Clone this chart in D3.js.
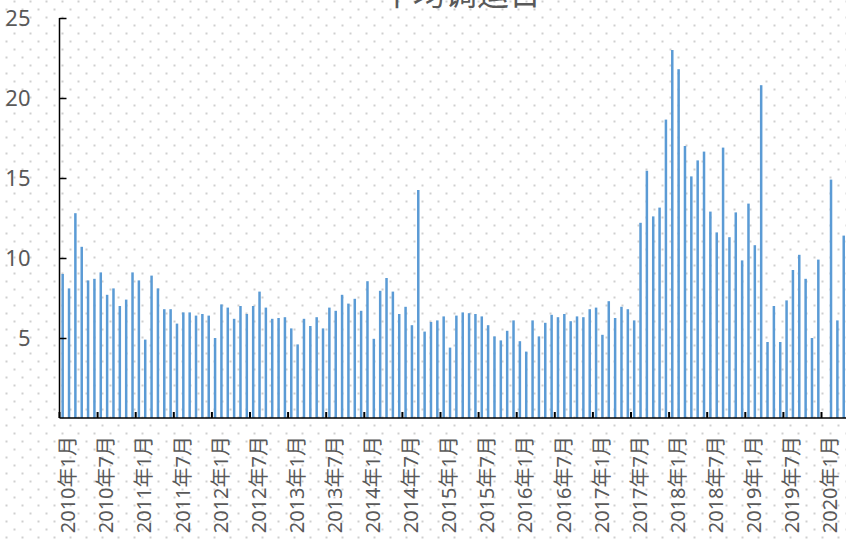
<!DOCTYPE html>
<html>
<head>
<meta charset="utf-8">
<script src="https://cdn.jsdelivr.net/npm/d3@7"></script>
<style>
  html, body { margin: 0; padding: 0; background: #fff; }
  svg { display: block; font-family: "Noto Sans", "Noto Sans CJK SC", sans-serif; }
</style>
</head>
<body>
<div id="chart"></div>
<script>
// monthly average values, one array per year (2020 only partly visible)
const YEARS = [2010, 2011, 2012, 2013, 2014, 2015, 2016, 2017, 2018, 2019, 2020];
const v2010 = [9.0, 8.1, 12.8, 10.7, 8.6, 8.7, 9.1, 7.7, 8.1, 7.0, 7.4, 9.1];
const v2011 = [8.6, 4.9, 8.9, 8.1, 6.8, 6.8, 5.9, 6.6, 6.6, 6.4, 6.5, 6.4];
const v2012 = [5.0, 7.1, 6.9, 6.2, 7.0, 6.5, 7.0, 7.9, 6.9, 6.2, 6.25, 6.3];
const v2013 = [5.6, 4.6, 6.2, 5.75, 6.3, 5.6, 6.9, 6.7, 7.7, 7.15, 7.45, 6.7];
const v2014 = [8.55, 4.95, 7.95, 8.75, 7.9, 6.5, 6.95, 5.8, 14.25, 5.4, 6.0, 6.1];
const v2015 = [6.35, 4.4, 6.4, 6.6, 6.55, 6.5, 6.35, 5.8, 5.1, 4.85, 5.45, 6.1];
const v2016 = [4.8, 4.15, 6.1, 5.1, 5.95, 6.45, 6.3, 6.5, 6.05, 6.35, 6.3, 6.8];
const v2017 = [6.9, 5.2, 7.3, 6.25, 6.95, 6.8, 6.1, 12.2, 15.45, 12.6, 13.15, 18.65];
const v2018 = [23.0, 21.8, 17.0, 15.1, 16.1, 16.65, 12.9, 11.6, 16.9, 11.3, 12.85, 9.85];
const v2019 = [13.4, 10.8, 20.8, 4.75, 7.0, 4.75, 7.35, 9.25, 10.2, 8.7, 5.0, 9.9];
const v2020 = [null, 14.9, 6.1, 11.4];
const SERIES = [v2010, v2011, v2012, v2013, v2014, v2015, v2016, v2017, v2018, v2019, v2020];

const TICK_LABELS = [
  '2010年1月', '2010年7月', '2011年1月', '2011年7月', '2012年1月', '2012年7月',
  '2013年1月', '2013年7月', '2014年1月', '2014年7月', '2015年1月', '2015年7月',
  '2016年1月', '2016年7月', '2017年1月', '2017年7月', '2018年1月', '2018年7月',
  '2019年1月', '2019年7月', '2020年1月'
];
const Y_TICKS = [5, 10, 15, 20, 25];
const TITLE = '平均调运日';

const W = 846, H = 541;
const M = { top: 18, left: 59.5, bottom: 123 };

// flatten into month records
const data = [];
SERIES.forEach((arr, i) => arr.forEach((v, m) => data.push({ key: `${YEARS[i]}年${m + 1}月`, value: v })));

const svg = d3.select('#chart').append('svg').attr('width', W).attr('height', H);

// dotted background
const defs = svg.append('defs');
const pat = defs.append('pattern').attr('id', 'dots')
  .attr('patternUnits', 'userSpaceOnUse').attr('width', 16).attr('height', 16);
pat.append('rect').attr('x', 5.5).attr('y', 8.5).attr('width', 2).attr('height', 2).attr('fill', '#cfcfcf');
pat.append('rect').attr('x', 13.5).attr('y', 0.5).attr('width', 2).attr('height', 2).attr('fill', '#cfcfcf');
svg.append('rect').attr('width', W).attr('height', H).attr('fill', '#fff');
svg.append('rect').attr('width', W).attr('height', H).attr('fill', 'url(#dots)');

const step = 6.35;
const x = d3.scaleBand()
  .domain(data.map(d => d.key))
  .range([M.left, M.left + data.length * step])
  .paddingInner(0).paddingOuter(0);
const y = d3.scaleLinear().domain([0, 25]).range([H - M.bottom, M.top]);

// bars
const barW = 2.5;
svg.append('g').selectAll('rect').data(data.filter(d => d.value != null)).join('rect')
  .attr('x', d => x(d.key) + x.bandwidth() / 2 - barW / 2)
  .attr('y', d => y(d.value))
  .attr('width', barW)
  .attr('height', d => y(0) - y(d.value))
  .attr('fill', '#5b9bd5');

// y axis, ticks pointing inward
const yAxis = svg.append('g').attr('transform', `translate(${M.left},0)`)
  .call(d3.axisLeft(y).tickValues(Y_TICKS).tickSize(-7).tickPadding(29));
yAxis.select('.domain').attr('stroke', '#000').attr('stroke-width', 1.5)
  .attr('d', `M0,${y(0)}V${y(25)}`);
yAxis.selectAll('.tick line').attr('stroke', '#000').attr('stroke-width', 1.5);
yAxis.selectAll('.tick text')
  .attr('fill', '#595959').attr('font-size', 22).attr('font-family', '"Noto Sans", sans-serif');

// x axis
const xAxisG = svg.append('g');
xAxisG.append('line')
  .attr('x1', M.left).attr('x2', W)
  .attr('y1', y(0)).attr('y2', y(0))
  .attr('stroke', '#000').attr('stroke-width', 1.6);

const tickKeys = TICK_LABELS;
xAxisG.selectAll('line.tk').data(tickKeys).join('line').attr('class', 'tk')
  .attr('x1', d => x(d)).attr('x2', d => x(d))
  .attr('y1', y(0)).attr('y2', y(0) - 6)
  .attr('stroke', '#000').attr('stroke-width', 2);

xAxisG.selectAll('text.lbl').data(tickKeys).join('text').attr('class', 'lbl')
  .attr('transform', d => `translate(${x(d) + 8.5},436) rotate(-90)`)
  .attr('text-anchor', 'end')
  .attr('dy', '0.36em')
  .attr('font-size', 20)
  .attr('fill', '#595959')
  .attr('font-family', '"Noto Sans", "Noto Sans CJK SC", sans-serif')
  .text(d => d);

// title, mostly cut off at the top
svg.append('text')
  .attr('x', 461).attr('y', 5)
  .attr('text-anchor', 'middle')
  .attr('font-size', 32)
  .attr('fill', '#595959')
  .attr('font-family', '"Noto Sans CJK SC", sans-serif')
  .text(TITLE);
</script>
</body>
</html>
